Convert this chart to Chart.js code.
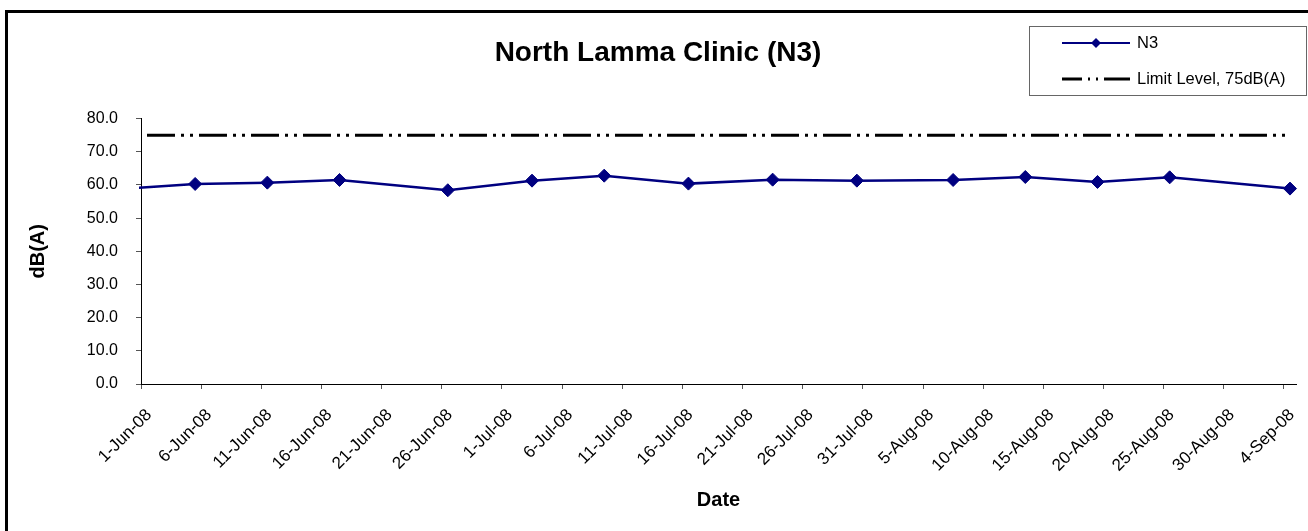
<!DOCTYPE html>
<html>
<head>
<meta charset="utf-8">
<script src="https://cdn.jsdelivr.net/npm/chart.js@4"></script>
<style>
  html, body { margin: 0; padding: 0; background: #fff; }
  #wrap { width: 1308px; height: 531px; }
</style>
</head>
<body>
<div id="wrap"><canvas id="noise"></canvas></div>
<script>
const sampleDates = ['29-May-08', '5-Jun-08', '11-Jun-08', '17-Jun-08', '26-Jun-08', '3-Jul-08', '9-Jul-08',
  '16-Jul-08', '23-Jul-08', '30-Jul-08', '7-Aug-08', '13-Aug-08', '19-Aug-08', '25-Aug-08', '4-Sep-08'];
const n3Values = [58.6, 60.3, 60.7, 61.5, 58.4, 61.3, 62.8, 60.4, 61.6, 61.3, 61.5, 62.4, 60.9, 62.3, 58.9];

const limitDates = ['1-Jun-08', '4-Sep-08'];
const limitValues = [75, 75];

const xTickLabels = ['1-Jun-08', '6-Jun-08', '11-Jun-08', '16-Jun-08', '21-Jun-08', '26-Jun-08', '1-Jul-08',
  '6-Jul-08', '11-Jul-08', '16-Jul-08', '21-Jul-08', '26-Jul-08', '31-Jul-08', '5-Aug-08', '10-Aug-08',
  '15-Aug-08', '20-Aug-08', '25-Aug-08', '30-Aug-08', '4-Sep-08'];
const yTickLabels = ['0.0', '10.0', '20.0', '30.0', '40.0', '50.0', '60.0', '70.0', '80.0'];

const MON = {Jan: 0, Feb: 1, Mar: 2, Apr: 3, May: 4, Jun: 5, Jul: 6, Aug: 7, Sep: 8, Oct: 9, Nov: 10, Dec: 11};
const ORIGIN = Date.UTC(2008, 5, 1);

// days since 1-Jun-08
function dayOf(s) {
  const p = s.split('-');
  return (Date.UTC(2000 + Number(p[2]), MON[p[1]], Number(p[0])) - ORIGIN) / 86400000;
}

// excel draws a date in the middle of its day slot
const n3Points = sampleDates.map((d, i) => ({x: dayOf(d) + 0.5, y: n3Values[i]}));
const limitPoints = limitDates.map((d, i) => ({x: dayOf(d) + 0.5, y: limitValues[i]}));
const xTickDays = xTickLabels.map(dayOf);
const yTickVals = yTickLabels.map(Number);

const FONT = 'Arial, "Liberation Sans", sans-serif';

const frame = {
  id: 'frame',
  beforeDraw(chart) {
    const c = chart.ctx;
    c.save();
    c.fillStyle = '#fff';
    c.fillRect(0, 0, chart.width, chart.height);
    c.strokeStyle = '#000';
    c.lineWidth = 3;
    c.strokeRect(6.5, 11.5, 1400, 600);
    c.restore();
  }
};

const boxLegend = {
  id: 'boxLegend',
  afterDraw(chart) {
    const c = chart.ctx;
    c.save();
    c.strokeStyle = '#666';
    c.lineWidth = 1;
    c.strokeRect(1029.5, 26.5, 277, 69);

    c.strokeStyle = '#000080';
    c.lineWidth = 2;
    c.beginPath();
    c.moveTo(1062, 43);
    c.lineTo(1130, 43);
    c.stroke();
    c.fillStyle = '#000080';
    c.beginPath();
    c.moveTo(1091, 43);
    c.lineTo(1096, 38);
    c.lineTo(1101, 43);
    c.lineTo(1096, 48);
    c.closePath();
    c.fill();

    c.strokeStyle = '#000';
    c.lineWidth = 3;
    c.setLineDash([20, 6, 2, 6, 2, 6, 26, 10]);
    c.beginPath();
    c.moveTo(1062, 79);
    c.lineTo(1130, 79);
    c.stroke();
    c.setLineDash([]);

    c.fillStyle = '#000';
    c.font = '16.5px ' + FONT;
    c.textBaseline = 'middle';
    c.fillText(chart.data.datasets[0].label, 1137, 43);
    c.fillText(chart.data.datasets[1].label, 1137, 79);
    c.restore();
  }
};

new Chart(document.getElementById('noise'), {
  type: 'line',
  data: {
    datasets: [{
      label: 'N3',
      data: n3Points,
      borderColor: '#000080',
      backgroundColor: '#000080',
      borderWidth: 2.5,
      pointStyle: 'rectRot',
      pointRadius: 6.5,
      pointBorderWidth: 1,
      pointHoverRadius: 6.5,
      clip: 2,
      tension: 0
    }, {
      label: 'Limit Level, 75dB(A)',
      data: limitPoints,
      borderColor: '#000',
      borderWidth: 3,
      borderDash: [28, 6, 3, 6, 3, 6],
      pointRadius: 0,
      pointHoverRadius: 0
    }]
  },
  options: {
    responsive: true,
    maintainAspectRatio: false,
    animation: false,
    events: [],
    layout: {padding: {left: 20, right: 12, top: 0, bottom: 16}},
    scales: {
      x: {
        type: 'linear',
        min: 0,
        max: 96,
        afterBuildTicks: s => { s.ticks = xTickDays.map(v => ({value: v})); },
        afterFit: s => { s.height = 131; s.paddingLeft = 0; s.paddingRight = 0; },
        ticks: {
          autoSkip: false,
          minRotation: 45,
          maxRotation: 45,
          padding: 16,
          labelOffset: 8,
          color: '#000',
          font: {family: FONT, size: 17},
          callback: (v) => xTickLabels[xTickDays.indexOf(v)]
        },
        grid: {display: true, drawOnChartArea: false, drawTicks: true, tickLength: 5, color: '#555'},
        border: {display: true, color: '#000', width: 1},
        title: {
          display: true,
          text: 'Date',
          color: '#000',
          font: {family: FONT, size: 20, weight: 'bold'},
          padding: {top: 0, bottom: 3}
        }
      },
      y: {
        min: 0,
        max: 80,
        afterBuildTicks: s => { s.ticks = yTickVals.map(v => ({value: v})); },
        afterFit: s => { s.width = 121; },
        ticks: {
          padding: 18,
          color: '#000',
          font: {family: FONT, size: 16},
          callback: (v) => yTickLabels[yTickVals.indexOf(v)]
        },
        grid: {display: true, drawOnChartArea: false, drawTicks: true, tickLength: 5, color: '#555'},
        border: {display: true, color: '#000', width: 1},
        title: {
          display: true,
          text: 'dB(A)',
          color: '#000',
          font: {family: FONT, size: 20, weight: 'bold'},
          padding: {top: 6, bottom: 0}
        }
      }
    },
    plugins: {
      legend: {display: false},
      tooltip: {enabled: false},
      title: {
        display: true,
        text: 'North Lamma Clinic (N3)',
        color: '#000',
        font: {family: FONT, size: 28, weight: 'bold'},
        padding: {top: 36, bottom: 49}
      }
    }
  },
  plugins: [frame, boxLegend]
});
</script>
</body>
</html>
